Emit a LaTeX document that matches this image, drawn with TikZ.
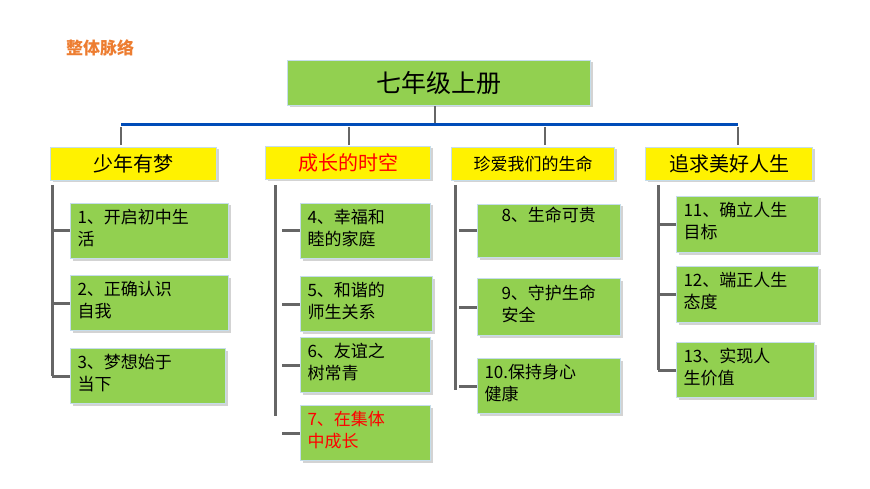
\documentclass[tikz,border=0pt]{standalone}
\usepackage{fontspec}
\setmainfont{Noto Sans CJK SC}
\usetikzlibrary{shadows}
\definecolor{gr}{HTML}{92D050}
\definecolor{bd}{HTML}{C5DDEB}
\definecolor{org}{HTML}{ED7D31}
\begin{document}
\begin{tikzpicture}[x=1pt,y=-1pt,
 box/.style={draw=bd,line width=1pt,fill=gr,drop shadow={shadow xshift=2pt,shadow yshift=-2pt,opacity=0.35},anchor=north west,inner sep=0pt},
 head/.style={box,fill=yellow},
 txt/.style={anchor=north west,align=left,font=\fontsize{17}{22}\selectfont},
 tick/.style={draw=gray!80!black,line width=3pt}]
\useasboundingbox (0,0) rectangle (870,489);
\node[text=org,font=\fontsize{17}{20}\selectfont\bfseries] (t) at (100,48) {整体脉络};
\node[box,minimum width=303pt,minimum height=45pt] (root) at (287,60) {};
\node[font=\fontsize{25}{28}\selectfont] at (root.center) {七年级上册};
\coordinate (r1) at (435,106); \coordinate (r2) at (435,124);
\draw[tick,line width=2.5pt] (r1) -- (r2);
\coordinate (bl) at (121,125); \coordinate (br) at (738,125);
\draw[draw=blue!60!black!70!cyan,line width=3pt] (bl) -- (br);
\foreach \x in {121,349,545,738}{\draw[tick,line width=2.5pt] (\x,127) -- (\x,145);}
% heads
\node[head,minimum width=166pt,minimum height=33pt] (h1) at (50,147) {};
\node[font=\fontsize{20}{22}\selectfont] at (h1.center) {少年有梦};
\node[head,minimum width=165pt,minimum height=33pt] (h2) at (265,146) {};
\node[font=\fontsize{20}{22}\selectfont,text=red] at (h2.center) {成长的时空};
\node[head,minimum width=163pt,minimum height=33pt] (h3) at (451,147) {};
\node[font=\fontsize{17}{22}\selectfont] at (h3.center) {珍爱我们的生命};
\node[head,minimum width=167pt,minimum height=33pt] (h4) at (645,147) {};
\node[font=\fontsize{20}{22}\selectfont] at (h4.center) {追求美好人生};
% verticals
\draw[tick] (52,185) -- (52,376);
\draw[tick] (275,185) -- (275,416);
\draw[tick] (455,185) -- (455,390);
\draw[tick] (658,185) -- (658,370);
% boxes: name, x, y, w, h, text
\newcommand\itm[7]{%
 \node[box,minimum width=#4pt,minimum height=#5pt] (#1) at (#2,#3) {};
 \node[txt,text=#7] at ([xshift=4pt,yshift=-3pt]#1.north west) {#6};
 \draw[tick] (#1.west -| #1.west) ++(-18,0) -- (#1.west);}
\itm{a1}{70}{203}{158}{55}{1、开启初中生\\活}{black}
\itm{a2}{70}{275}{158}{55}{2、正确认识\\自我}{black}
\itm{a3}{70}{348}{155}{55}{3、梦想始于\\当下}{black}
\itm{b1}{300}{203}{130}{55}{4、幸福和\\睦的家庭}{black}
\itm{b2}{300}{276}{132}{55}{5、和谐的\\师生关系}{black}
\itm{b3}{300}{337}{130}{55}{6、友谊之\\树常青}{black}
\itm{b4}{300}{405}{130}{55}{7、在集体\\中成长}{red}
\itm{c1}{477}{204}{143}{53}{\\[-11pt]\quad 8、生命可贵}{black}
\itm{c2}{477}{278}{143}{57}{\quad 9、守护生命\\\quad 安全}{black}
\itm{c3}{477}{358}{143}{55}{10.保持身心\\健康}{black}
\itm{d1}{676}{196}{142}{56}{11、确立人生\\目标}{black}
\itm{d2}{676}{266}{142}{56}{12、端正人生\\态度}{black}
\itm{d3}{676}{342}{138}{55}{13、实现人\\生价值}{black}
\end{tikzpicture}
\end{document}
